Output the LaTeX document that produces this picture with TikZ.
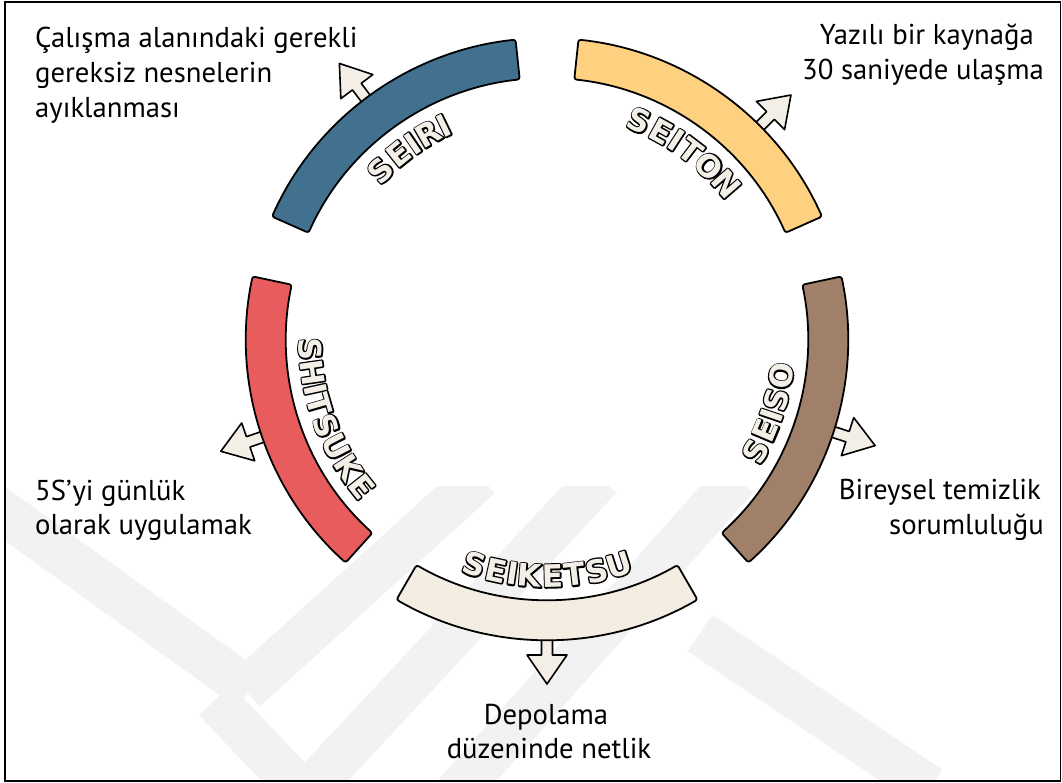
\documentclass[tikz,border=0pt]{standalone}
\usepackage{fontspec}
\setmainfont{PT Sans}
\newfontfamily\lblfont{DejaVu Sans}[UprightFont={* Bold}]
\usetikzlibrary{calc}
\definecolor{seiri}{HTML}{41718F}
\definecolor{seiton}{HTML}{FDD180}
\definecolor{seiso}{HTML}{A08068}
\definecolor{seiketsu}{HTML}{F3EDE2}
\definecolor{shitsuke}{HTML}{E95C5D}
\definecolor{cream}{HTML}{F4EFE6}
\definecolor{wmark}{HTML}{F2F2F2}
\newcommand\outlined[1]{\rlap{\special{pdf:literal direct 0 0 0 RG 1 Tr 2.8 w 1 j}#1\special{pdf:literal direct 0 Tr}}#1}
\tikzset{
  band/.style={draw=black, line width=1.8pt, rounded corners=2.5pt, line join=round},
  barrow/.style={draw=black, fill=cream, line width=1.6pt, line join=round},
  txt/.style={inner sep=0pt, font=\fontsize{28.7}{34}\selectfont},
  lbl/.style={inner sep=0pt, text=cream, font=\lblfont\fontsize{31}{31}\selectfont},
  wm/.style={draw=wmark, line width=44pt, line cap=butt},
}
\newcommand\oletter[3]{%
  \node[lbl,rotate=#2] at ($(C)+(#1:237)$) {\outlined{#3}};
}
\newcommand\bandseg[3]{%
  \draw[band, fill=#3] ($(C)+(#1:301)$) arc[start angle=#1, end angle=#2, radius=301]
    -- ($(C)+(#2:261)$) arc[start angle=#2, end angle=#1, radius=261] -- cycle;
}
\newcommand\radarrow[1]{%
  \begin{scope}[shift={(C)}, rotate=#1]
    \draw[barrow] (285,-5.5) -- (316,-5.5) -- (316,-20) -- (345,0) -- (316,20) -- (316,5.5) -- (285,5.5) -- cycle;
  \end{scope}
}
\begin{document}
\begin{tikzpicture}[x=1pt,y=1pt]
\useasboundingbox (0,0) rectangle (1062,783);
\fill[white] (0,0) rectangle (1062,783);
% faint watermark
\begin{scope}
  \clip (6,3) rectangle (1060,296);
  \draw[wm] (-60,316) -- (250,93);
  \draw[wm] (480,306) -- (245,93);
  \draw[wm] (215,83) -- (310,-17);
  \draw[wm] (600,305) -- (300,-17);
  \draw[wm] (737,305) -- (450,-17);
  \draw[wm] (700,150) -- (930,-5);
\end{scope}
\coordinate (C) at (547,444);
% arrows
\radarrow{127}
\radarrow{45}
\radarrow{-18}
\radarrow{-90}
\radarrow{199}
% bands
\bandseg{96}{156}{seiri}
\bandseg{24}{84}{seiton}
\bandseg{-48}{12}{seiso}
\bandseg{240}{300}{seiketsu}
\bandseg{168}{228}{shitsuke}
% labels
\foreach \a/\r/\l in {134.6/44.6/S,128.7/38.7/E,124.4/34.4/I,120.1/30.1/R,115.8/25.8/I}{\oletter{\a}{\r}{\l}}
\foreach \a/\r/\l in {67.1/-22.9/S,61.2/-28.8/E,57.0/-33.0/I,52.7/-37.3/T,46.8/-43.2/O,40.9/-49.1/N}{\oletter{\a}{\r}{\l}}
\foreach \a/\r/\l in {-28.3/61.7/S,-22.8/67.2/E,-18.8/71.2/I,-14.8/75.2/S,-9.0/81.0/O}{\oletter{\a}{\r}{\l}}
\foreach \a/\r/\l in {252.1/342.1/S,257.6/347.6/E,261.6/351.6/I,265.7/355.7/K,271.4/1.4/E,276.7/6.7/T,282.1/12.1/S,287.7/17.7/U}{\oletter{\a}{\r}{\l}}
\foreach \a/\r/\l in {182.5/272.5/S,188.1/278.1/H,192.25/282.25/I,196.1/286.1/T,201.5/291.5/S,207.1/297.1/U,212.9/302.9/K,218.5/308.5/E}{\oletter{\a}{\r}{\l}}
% texts
\node[txt, anchor=base west] (t1a) at (35,735.5) {Çalışma alanındaki gerekli};
\node[txt, anchor=base west] (t1b) at (35,700) {gereksiz nesnelerin};
\node[txt, anchor=base west] (t1c) at (35,665) {ayıklanması};
\node[txt, anchor=base east] (t2a) at (1034,738) {Yazılı bir kaynağa};
\node[txt, anchor=base east] (t2b) at (1044,703) {30 saniyede ulaşma};
\node[txt, anchor=base east] (t3a) at (1041,283) {Bireysel temizlik};
\node[txt, anchor=base east] (t3b) at (1044,248) {sorumluluğu};
\node[txt, anchor=base west] (t5a) at (35,282) {5S’yi günlük};
\node[txt, anchor=base west] (t5b) at (35,248) {olarak uygulamak};
\node[txt, anchor=base] (t4a) at (546,58) {Depolama};
\node[txt, anchor=base] (t4b) at (549,24) {düzeninde netlik};
% frame
\draw[line width=1.5pt] (5,2) rectangle (1060.5,781);
\end{tikzpicture}
\end{document}
